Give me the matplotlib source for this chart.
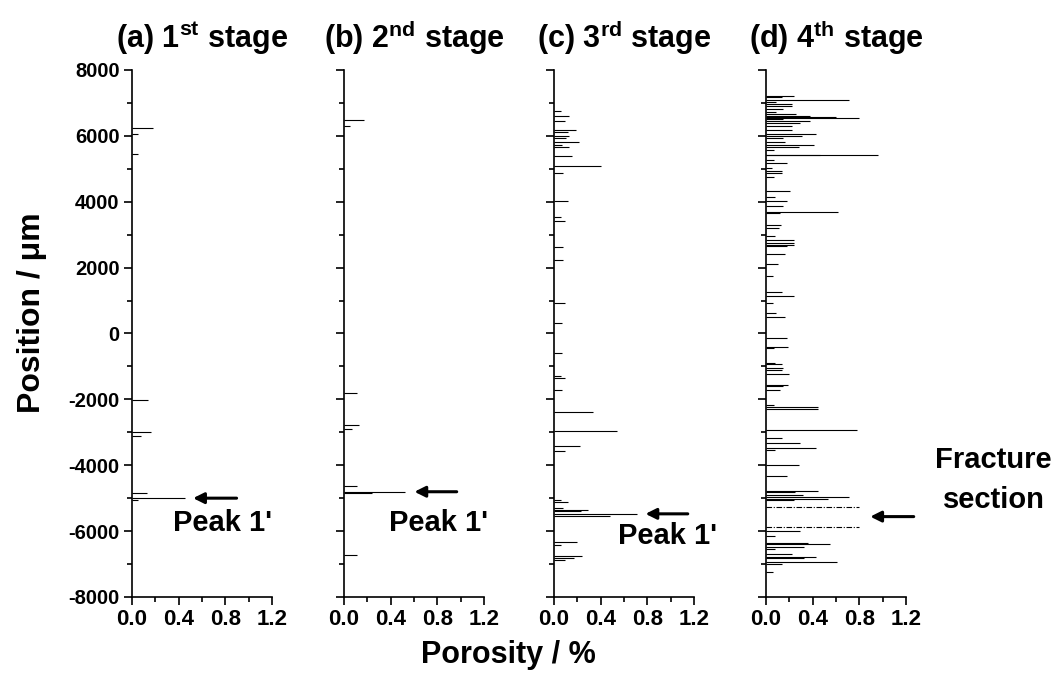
import numpy as np
import matplotlib
matplotlib.use("Agg")
import matplotlib.pyplot as plt
from matplotlib.ticker import MultipleLocator
from matplotlib import font_manager

plt.rcParams["font.family"] = ["Liberation Sans", "DejaVu Sans"]
plt.rcParams["font.weight"] = "bold"
plt.rcParams["axes.unicode_minus"] = False
plt.rcParams["mathtext.fontset"] = "custom"
plt.rcParams["mathtext.rm"] = "Liberation Sans:bold"
plt.rcParams["mathtext.bf"] = "Liberation Sans:bold"

installed = {f.name for f in font_manager.fontManager.ttflist}
if "Liberation Sans Narrow" in installed:
    ytick_font = dict(family="Liberation Sans Narrow", weight="bold", size=17)
else:
    ytick_font = dict(weight="bold", size=14.5)

# porosity spikes: position (um) and porosity (%)
pos_a = [6245, 6050, 5454, -2021, -2995, -3125, -4837, -5000, -5054]
por_a = [0.18, 0.05, 0.05, 0.14, 0.16, 0.08, 0.13, 0.455, 0.05]

pos_b = [6494, 6300, -1793, -2790, -2910, -4620, -4805, -4837, -6733]
por_b = [0.17, 0.05, 0.11, 0.13, 0.07, 0.11, 0.52, 0.24, 0.11]

pos_c = [6754, 6592, 6440, 6169, 6104, 6007, 5920, 5812, 5725, 5650, 5378, 5086,
         4858, 4024, 3537, 3428, 2616, 2237, 915, 309, -580, -1305, -1360, -1717,
         -2378, -2963, -3418, -3580, -5043, -5130, -5292, -5346, -5400, -5476,
         -5541, -6343, -6430, -6755, -6809, -6863]
por_c = [0.06, 0.13, 0.09, 0.19, 0.12, 0.13, 0.10, 0.21, 0.07, 0.13, 0.15, 0.40,
         0.08, 0.12, 0.06, 0.09, 0.08, 0.08, 0.09, 0.07, 0.07, 0.06, 0.09, 0.07,
         0.33, 0.54, 0.22, 0.09, 0.06, 0.12, 0.08, 0.29, 0.23, 0.71,
         0.48, 0.20, 0.06, 0.24, 0.17, 0.09]

pos_d = [7220, 7165, 7079, 7030, 6980, 6895, 6808, 6732, 6678, 6602, 6570, 6540,
         6505, 6440, 6385, 6300, 6190, 6050, 6007, 5942, 5812, 5725, 5650, 5563,
         5433, 5422, 5270, 5162, 5021, 4924, 4858, 4760, 4327, 4132, 4024, 3883,
         3700, 3667, 3300, 3212, 2974, 2833, 2757, 2692, 2649, 2399, 2107, 1750,
         1262, 1132, 937, 628, 498, -130, -418, -450, -883, -937, -1035, -1122,
         -1230, -1555, -1609, -1717, -2183, -2227, -2281, -2931, -3169, -3321,
         -3462, -3527, -3992, -4317, -4772, -4826, -4908, -4970, -5013, -5067,
         -5997, -6159, -6375, -6397, -6473, -6549, -6690, -6777, -6831, -6949,
         -6993, -7250]
por_d = [0.24, 0.14, 0.71, 0.09, 0.22, 0.22, 0.15, 0.09, 0.26, 0.38, 0.60, 0.80,
         0.15, 0.38, 0.29, 0.22, 0.22, 0.43, 0.31, 0.15, 0.16, 0.41, 0.28, 0.07,
         0.96, 0.46, 0.07, 0.18, 0.05, 0.14, 0.14, 0.07, 0.21, 0.08, 0.18, 0.15,
         0.62, 0.12, 0.13, 0.11, 0.08, 0.24, 0.24, 0.24, 0.18, 0.16, 0.10, 0.06,
         0.14, 0.24, 0.06, 0.09, 0.16, 0.18, 0.19, 0.07, 0.08, 0.14, 0.15, 0.14,
         0.20, 0.19, 0.15, 0.12, 0.07, 0.45, 0.45, 0.78, 0.14, 0.29,
         0.43, 0.08, 0.28, 0.18, 0.45, 0.25, 0.32, 0.71, 0.53, 0.24,
         0.29, 0.08, 0.36, 0.55, 0.33, 0.08, 0.22, 0.43, 0.33, 0.61,
         0.14, 0.06]

fracture_lines = [-5260, -5866]

titles = ["(a) 1$^{\\rm st}$ stage", "(b) 2$^{\\rm nd}$ stage",
          "(c) 3$^{\\rm rd}$ stage", "(d) 4$^{\\rm th}$ stage"]
positions = [pos_a, pos_b, pos_c, pos_d]
porosities = [por_a, por_b, por_c, por_d]

# arrows: (head x, tail x, y)
arrows = [(0.50, 0.92, -5000), (0.58, 0.99, -4805), (0.76, 1.17, -5476), (0.87, 1.29, -5560)]
peak_text = [(0.78, -5750), (0.81, -5750), (0.97, -6160)]

fig = plt.figure(figsize=(10.63, 6.88), dpi=100)
lefts = [0.1242, 0.3236, 0.5212, 0.7206]
axes = []
for i in range(4):
    ax = fig.add_axes([lefts[i], 0.1323, 0.1317, 0.766])
    axes.append(ax)
    ax.hlines(positions[i], 0, porosities[i], color="k", lw=0.8)
    ax.set_xlim(0, 1.2)
    ax.set_ylim(-8000, 8000)
    ax.xaxis.set_major_locator(MultipleLocator(0.4))
    ax.xaxis.set_minor_locator(MultipleLocator(0.2))
    ax.yaxis.set_major_locator(MultipleLocator(2000))
    ax.yaxis.set_minor_locator(MultipleLocator(1000))
    ax.set_xticks([0.0, 0.4, 0.8, 1.2])
    ax.set_xticklabels(["0.0", "0.4", "0.8", "1.2"])
    for s in ["top", "right"]:
        ax.spines[s].set_visible(False)
    for s in ["left", "bottom"]:
        ax.spines[s].set_linewidth(1.2)
    ax.tick_params(which="major", direction="out", length=6, width=1.2, labelsize=16, pad=3)
    ax.tick_params(which="minor", direction="out", length=3.5, width=1.2)
    if i > 0:
        ax.tick_params(axis="y", labelleft=False)
    ax.set_title(titles[i], fontsize=22, fontweight="bold", pad=16)
    hx, tx, ay = arrows[i]
    ax.annotate("", xy=(hx, ay), xytext=(tx, ay), annotation_clip=False,
                arrowprops=dict(arrowstyle="-|>", lw=2.2, color="k", mutation_scale=16))
    if i < 3:
        px, py = peak_text[i]
        ax.text(px, py, "Peak 1'", fontsize=21, fontweight="bold", ha="center", va="center", clip_on=False)

for lab in axes[0].get_yticklabels():
    lab.set(**ytick_font)

axes[3].hlines(fracture_lines, 0, 0.80, color="k", lw=0.8, linestyles=(0, (5, 1.5, 1, 1.5)))
axes[3].text(1.95, -4450, "Fracture\nsection", fontsize=21, fontweight="bold",
             ha="center", va="center", multialignment="center", linespacing=1.55, clip_on=False)

axes[0].set_ylabel("Position / μm", fontsize=23, fontweight="bold")
axes[0].yaxis.set_label_coords(-0.61, 0.54)
fig.text(0.478, 0.048, "Porosity / %", fontsize=22, fontweight="bold", ha="center", va="center")

plt.savefig("out.png", dpi=100)
